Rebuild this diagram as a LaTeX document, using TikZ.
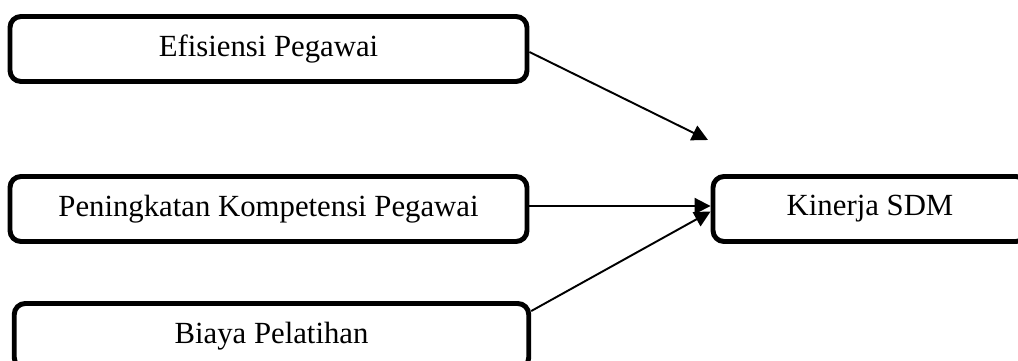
\documentclass[tikz,border=0pt]{standalone}
\usepackage{fontspec}
\setmainfont{Liberation Serif}
\usetikzlibrary{arrows.meta}

\tikzset{
    varbox/.style={draw, line width=2.8pt, rounded corners=0.22cm, fill=white,
        minimum height=1.3cm, inner sep=0pt, font=\fontsize{17.5}{21}\selectfont},
    panah/.style={line width=1.1pt, -{Triangle[length=0.32cm, width=0.32cm]}},
}

\begin{document}
\begin{tikzpicture}
        \clip (0,0) rectangle (20.36,7.22);
        \node[varbox, minimum width=10.34cm] (efisiensi) at (5.37,6.24) {Efisiensi Pegawai};
        \node[varbox, minimum width=10.34cm] (kompetensi) at (5.37,3.04) {Peningkatan Kompetensi Pegawai};
        \node[varbox, minimum width=10.29cm] (biaya) at (5.43,0.5) {Biaya Pelatihan};
        \node[varbox, minimum width=6.28cm] (kinerja) at (17.4,3.04) {Kinerja SDM};
        \coordinate (ujung) at (14.16,4.42);

        \draw[panah] ([yshift=-0.06cm]efisiensi.east) -- (ujung);
        \draw[panah] ([yshift=0.06cm]kompetensi.east) -- ([yshift=0.06cm]kinerja.west);
        \draw[panah] ([yshift=-0.2cm]biaya.north east) -- ([yshift=-0.05cm]kinerja.west);
\end{tikzpicture}
\end{document}
